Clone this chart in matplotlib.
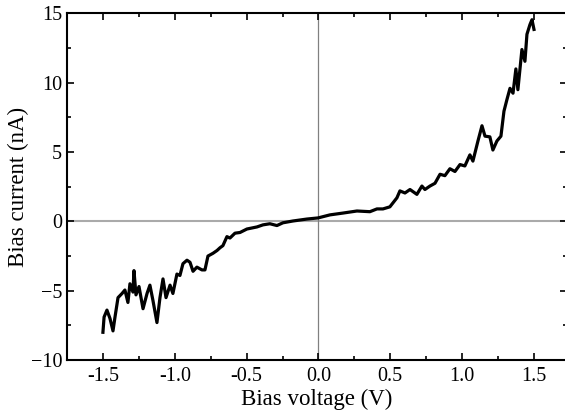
import matplotlib
matplotlib.use("Agg")
import matplotlib.pyplot as plt
from matplotlib.ticker import MultipleLocator, FormatStrFormatter

# bias sweep (V, nA)
voltage = [
    -1.500, -1.492, -1.472, -1.451, -1.430, -1.416, -1.395, -1.367, -1.347,
    -1.326, -1.312, -1.291, -1.284, -1.270, -1.249, -1.221, -1.193, -1.173,
    -1.152, -1.124, -1.103, -1.082, -1.061, -1.033, -1.013, -0.985, -0.964,
    -0.943, -0.915, -0.894, -0.873, -0.846, -0.811, -0.790, -0.769, -0.734,
    -0.706, -0.685, -0.665, -0.637, -0.616, -0.581, -0.546, -0.498, -0.428,
    -0.386, -0.338, -0.289, -0.247, -0.177, -0.080, -0.003, 0.080, 0.170,
    0.268, 0.358, 0.407, 0.449, 0.497, 0.546, 0.567, 0.602, 0.637, 0.685,
    0.720, 0.741, 0.776, 0.811, 0.846, 0.880, 0.915, 0.950, 0.985, 1.019,
    1.054, 1.075, 1.110, 1.138, 1.159, 1.193, 1.214, 1.242, 1.270, 1.291,
    1.312, 1.333, 1.354, 1.374, 1.388, 1.416, 1.437, 1.451, 1.472, 1.486,
    1.500,
]
current = [
    -8.0, -6.9, -6.4, -7.0, -7.9, -6.9, -5.5, -5.2, -4.95,
    -5.85, -4.5, -5.1, -3.55, -5.3, -4.7, -6.3, -5.2, -4.6,
    -5.7, -7.3, -5.5, -4.15, -5.5, -4.6, -5.2, -3.8, -3.9,
    -3.05, -2.8, -2.95, -3.6, -3.3, -3.5, -3.5, -2.5, -2.3,
    -2.1, -1.9, -1.75, -1.1, -1.2, -0.85, -0.8, -0.55, -0.4,
    -0.25, -0.17, -0.3, -0.1, 0.03, 0.17, 0.25, 0.47, 0.6,
    0.75, 0.7, 0.9, 0.9, 1.05, 1.7, 2.2, 2.05, 2.3, 1.95,
    2.55, 2.3, 2.55, 2.75, 3.4, 3.3, 3.8, 3.6, 4.1, 4.0,
    4.8, 4.35, 5.8, 6.9, 6.15, 6.1, 5.15, 5.8, 6.15, 7.95,
    8.8, 9.6, 9.25, 11.0, 9.5, 12.4, 11.55, 13.5, 14.2, 14.55,
    13.85,
]

plt.rcParams["font.family"] = ["Liberation Serif", "DejaVu Serif"]

fig = plt.figure(figsize=(5.65, 4.16), dpi=100)
ax = fig.add_axes([0.1186, 0.1346, 0.885, 0.833])

ax.axhline(0, color="#aaaaaa", lw=1.5, zorder=1)
ax.axvline(0, color="#808080", lw=0.9, zorder=1)
ax.plot(voltage, current, color="black", lw=2.3, zorder=3)

ax.set_xlim(-1.75, 1.73)
ax.set_ylim(-10, 15)
ax.xaxis.set_major_locator(MultipleLocator(0.5))
ax.xaxis.set_minor_locator(MultipleLocator(0.25))
ax.xaxis.set_major_formatter(FormatStrFormatter("%.1f"))
ax.yaxis.set_major_locator(MultipleLocator(5))
ax.yaxis.set_minor_locator(MultipleLocator(2.5))

ax.tick_params(which="both", direction="in", top=True, right=True,
               labelsize=14.5, width=1.2)
ax.tick_params(which="major", length=5)
ax.tick_params(which="minor", length=3)
ax.tick_params(axis="x", pad=5)
for s in ax.spines.values():
    s.set_linewidth(1.5)

ax.set_xlabel("Bias voltage (V)", fontsize=16.5, labelpad=2)
ax.set_ylabel("Bias current (nA)", fontsize=16.5, labelpad=1)

fig.savefig("out.png", dpi=100)
